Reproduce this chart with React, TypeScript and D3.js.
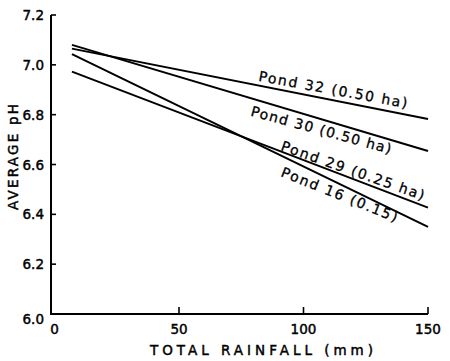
import React from "react";
import * as d3 from "d3";

// ---- data ----
const ponds = ["Pond 32 (0.50 ha)", "Pond 30 (0.50 ha)", "Pond 29 (0.25 ha)", "Pond 16 (0.15)"];
const rainStart = [7, 7, 7, 7];
const rainEnd = [150, 150, 150, 150];
const phStart = [7.065, 7.08, 6.973, 7.043];
const phEnd = [6.783, 6.654, 6.427, 6.35];
const yTicks = [6.0, 6.2, 6.4, 6.6, 6.8, 7.0, 7.2];
const xTicks = [0, 50, 100, 150];

// ---- label layout ----
const labelRain = [81.7, 78.5, 90.6, 90.6];
const labelDy = [-4.6, 17.6, -1, 21];
const labelAngle = [10.4, 15.3, 19.4, 21.8];
const labelLen = [151, 145, 151, 124];

const W = 450;
const H = 361;

export default function App() {
  const x = d3.scaleLinear().domain([0, 150]).range([54.5, 428]);
  const y = d3.scaleLinear().domain([6.0, 7.2]).range([314, 15]);
  const axisX = 51;
  const line = d3
    .line<[number, number]>()
    .x((d) => x(d[0]))
    .y((d) => y(d[1]));
  const font = "'DejaVu Sans', sans-serif";
  const heavy = { stroke: "#000", strokeWidth: 0.45 };

  return (
    <svg
      width={W}
      height={H}
      style={{ position: "absolute", left: 0, top: 0, background: "#fff" }}
      fontFamily={font}
    >
      <rect x={0} y={0} width={W} height={H} fill="#fff" />
      {/* axes */}
      <line x1={axisX} x2={axisX} y1={y(7.2)} y2={y(6.0) + 1} stroke="#000" strokeWidth={2} />
      <line x1={axisX} x2={x(150)} y1={y(6.0)} y2={y(6.0)} stroke="#000" strokeWidth={2} />
      {yTicks
        .filter((t) => t > 6.0)
        .map((t) => (
          <line key={"yt" + t} x1={axisX} x2={axisX + 5} y1={y(t)} y2={y(t)} stroke="#000" strokeWidth={1.6} />
        ))}
      {xTicks
        .filter((t) => t > 0)
        .map((t) => (
          <line key={"xt" + t} x1={x(t)} x2={x(t)} y1={y(6.0)} y2={y(6.0) - 7} stroke="#000" strokeWidth={1.6} />
        ))}
      {yTicks.map((t) => (
        <text
          key={"yl" + t}
          x={44}
          y={y(t) + (t === 6.0 ? 5 : 0)}
          textAnchor="end"
          dominantBaseline="central"
          fontSize={13.5}
          fill="#000"
          {...heavy}
        >
          {t.toFixed(1)}
        </text>
      ))}
      {xTicks.map((t) => (
        <text key={"xl" + t} x={x(t)} y={334} textAnchor="middle" fontSize={13.5} fill="#000" {...heavy}>
          {t}
        </text>
      ))}
      <text x={150} y={355} fontSize={13.5} textLength={223} lengthAdjust="spacing" fill="#000" {...heavy}>
        TOTAL  RAINFALL (mm)
      </text>
      <text
        transform={`translate(18,157) rotate(-90)`}
        textAnchor="middle"
        fontSize={13.5}
        textLength={106}
        lengthAdjust="spacing"
        fill="#000"
        {...heavy}
      >
        AVERAGE pH
      </text>
      {/* series */}
      {ponds.map((p, i) => (
        <path
          key={p}
          d={line([
            [rainStart[i], phStart[i]],
            [rainEnd[i], phEnd[i]],
          ]) as string}
          fill="none"
          stroke="#000"
          strokeWidth={2}
        />
      ))}
      {ponds.map((p, i) => {
        const r = labelRain[i];
        const ph = phStart[i] + ((phEnd[i] - phStart[i]) * (r - rainStart[i])) / (rainEnd[i] - rainStart[i]);
        const lx = x(r);
        const ly = y(ph) + labelDy[i];
        return (
          <text
            key={"lab" + p}
            transform={`translate(${lx},${ly}) rotate(${labelAngle[i]})`}
            fontSize={14}
            textLength={labelLen[i]}
            lengthAdjust="spacing"
            fill="#000"
            stroke="#000"
            strokeWidth={0.3}
          >
            {p}
          </text>
        );
      })}
    </svg>
  );
}
